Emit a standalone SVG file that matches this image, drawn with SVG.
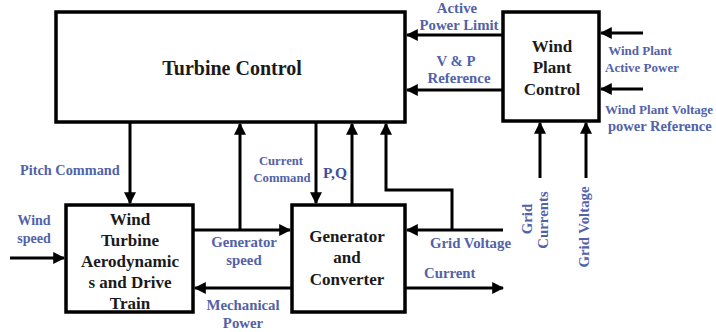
<svg xmlns="http://www.w3.org/2000/svg" width="716" height="332" viewBox="0 0 716 332">
<defs>
<marker id="ah" viewBox="0 0 10 10" refX="9" refY="5" markerWidth="4" markerHeight="4" orient="auto" markerUnits="strokeWidth">
<path d="M0,0 L10,5 L0,10 z" fill="#000"/>
</marker>
<style>
.box{fill:#fff;stroke:#000;stroke-width:3.5}
.bt{font-family:'Liberation Serif',serif;font-weight:bold;fill:#1a1a1a;text-anchor:middle;font-size:17px}
.lb{font-family:'Liberation Serif',serif;font-weight:bold;fill:#5262a8;font-size:14.8px}
.ar{fill:none;stroke:#000;stroke-width:3;marker-end:url(#ah)}
</style>
</defs>
<rect width="716" height="332" fill="#fff"/>
<g id="turbine-control">
<rect class="box" x="56" y="12" width="349" height="110"/>
<text class="bt" x="232" y="75" style="font-size:20px">Turbine Control</text>
</g>
<g id="wind-plant-control">
<rect class="box" x="503" y="12" width="96" height="109"/>
<text class="bt" x="552" y="52">Wind</text>
<text class="bt" x="552" y="73">Plant</text>
<text class="bt" x="552" y="95">Control</text>
</g>
<g id="wind-turbine">
<rect class="box" x="66" y="205" width="127" height="107"/>
<text class="bt" x="130" y="225">Wind</text>
<text class="bt" x="130" y="246">Turbine</text>
<text class="bt" x="130" y="267">Aerodynamic</text>
<text class="bt" x="130" y="288">s and Drive</text>
<text class="bt" x="130" y="309">Train</text>
</g>
<g id="generator">
<rect class="box" x="292" y="205" width="113" height="107"/>
<text class="bt" x="347" y="242">Generator</text>
<text class="bt" x="347" y="263">and</text>
<text class="bt" x="347" y="285">Converter</text>
</g>
<g id="connectors">
<line class="ar" x1="503" y1="35" x2="407" y2="35"/>
<line class="ar" x1="503" y1="90" x2="407" y2="90"/>
<line class="ar" x1="643" y1="33" x2="601" y2="33"/>
<line class="ar" x1="643" y1="89" x2="601" y2="89"/>
<line class="ar" x1="540" y1="178" x2="540" y2="123"/>
<line class="ar" x1="586" y1="178" x2="586" y2="123"/>
<line class="ar" x1="130" y1="123" x2="130" y2="203"/>
<line class="ar" x1="240" y1="230" x2="240" y2="124"/>
<line class="ar" x1="316" y1="123" x2="316" y2="203"/>
<line class="ar" x1="352" y1="205" x2="352" y2="124"/>
<polyline class="ar" points="452,230 452,190 386,190 386,124"/>
<line class="ar" x1="503" y1="230" x2="407" y2="230"/>
<line class="ar" x1="10" y1="258" x2="64" y2="258"/>
<line class="ar" x1="193" y1="230" x2="290" y2="230"/>
<line class="ar" x1="292" y1="288" x2="195" y2="288"/>
<line class="ar" x1="405" y1="288" x2="503" y2="288"/>
</g>
<g id="labels">
<text class="lb" x="457" y="13" text-anchor="middle">Active</text>
<text class="lb" x="459" y="30" text-anchor="middle">Power Limit</text>
<text class="lb" x="456" y="66" text-anchor="middle">V &amp; P</text>
<text class="lb" x="459" y="83" text-anchor="middle">Reference</text>
<text class="lb" x="640" y="55" text-anchor="middle" style="font-size:13px">Wind Plant</text>
<text class="lb" x="642" y="72" text-anchor="middle" style="font-size:13px">Active Power</text>
<text class="lb" x="605" y="114" style="font-size:13px">Wind Plant Voltage</text>
<text class="lb" x="608" y="131" style="font-size:14.5px">power Reference</text>
<text class="lb" x="20" y="175" style="font-size:14.3px">Pitch Command</text>
<text class="lb" x="281" y="165" text-anchor="middle" style="font-size:12.7px">Current</text>
<text class="lb" x="282" y="182" text-anchor="middle" style="font-size:12.7px">Command</text>
<text class="lb" x="323" y="178" style="font-size:15.5px;fill:#3f4f9c">P,Q</text>
<text class="lb" x="34" y="225" text-anchor="middle" style="font-size:14px">Wind</text>
<text class="lb" x="34" y="243" text-anchor="middle" style="font-size:14px">speed</text>
<text class="lb" x="244" y="247" text-anchor="middle">Generator</text>
<text class="lb" x="244" y="265" text-anchor="middle">speed</text>
<text class="lb" x="243" y="310" text-anchor="middle">Mechanical</text>
<text class="lb" x="243" y="328" text-anchor="middle">Power</text>
<text class="lb" x="430" y="248">Grid Voltage</text>
<text class="lb" x="424" y="278">Current</text>
<text class="lb" transform="translate(532,219) rotate(-90)" text-anchor="middle">Grid</text>
<text class="lb" transform="translate(548,220) rotate(-90)" text-anchor="middle">Currents</text>
<text class="lb" transform="translate(589,227) rotate(-90)" text-anchor="middle">Grid Voltage</text>
</g>
</svg>
